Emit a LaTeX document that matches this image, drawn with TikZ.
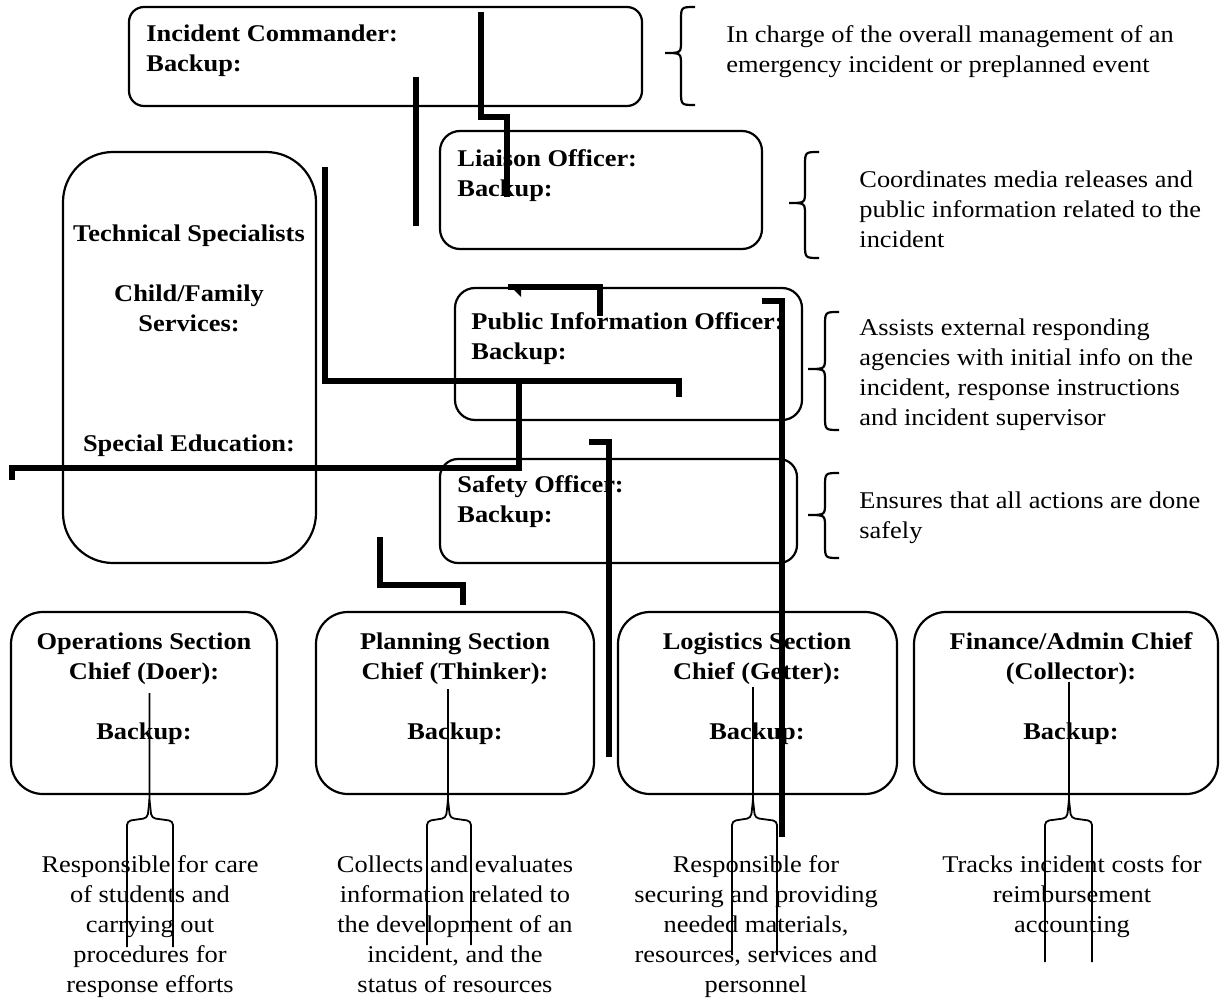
\documentclass[tikz,border=0pt]{standalone}
\usepackage{fontspec}
\setmainfont{Liberation Serif}[FakeStretch=1.1]
\newcommand\mybrace[6]{%
  \draw[bracestyle] (#1,#4) .. controls (#2,#4) .. (#2,#4+14) -- (#2,#5-12)
    .. controls (#2,#5) .. (#3,#5) .. controls (#2,#5) .. (#2,#5+12)
    -- (#2,#6-14) .. controls (#2,#6) .. (#1,#6);}
\newcommand\myfork[5]{%
  \draw[forkstyle] (#1,#2) -- (#1,800) -- (#1-2,818) -- (#3,821) -- (#3,#5);
  \draw[forkstyle] (#1,800) -- (#1+2,818) -- (#4,821) -- (#4,#5);}
\begin{document}
\begin{tikzpicture}[x=0.5pt,y=-0.5pt,
  box/.style={draw, line width=1.1pt, rounded corners=#1, inner sep=0pt, outer sep=0pt},
  box/.default=7.5pt,
  lbl/.style={inner sep=0pt, font=\fontsize{12pt}{15pt}\selectfont\bfseries, align=left},
  clbl/.style={lbl, align=center, anchor=north},
  desc/.style={inner sep=0pt, font=\fontsize{12pt}{15pt}\selectfont, align=left, anchor=north west},
  cdesc/.style={desc, align=center, anchor=north},
  heavy/.style={line width=2.8pt},
  forkstyle/.style={line width=0.9pt, rounded corners=2pt},
  bracestyle/.style={line width=1.1pt}]
\useasboundingbox (0,0) rectangle (1220,1000);

% boxes
\node[box, minimum width=256.5pt, minimum height=49.5pt] (ic) at (385.5,56.5) {};
\node[box=25pt, minimum width=126.5pt, minimum height=205.5pt] (tech) at (189.5,357.5) {};
\node[box=10pt, minimum width=161pt, minimum height=59pt] (liaison) at (601,190) {};
\node[box=10pt, minimum width=173.5pt, minimum height=66pt] (pio) at (628.5,354) {};
\node[box=9pt, minimum width=178.5pt, minimum height=52pt] (safety) at (618.5,511) {};
\node[box=16pt, minimum width=133pt, minimum height=91pt] (ops) at (144,703) {};
\node[box=16pt, minimum width=139pt, minimum height=91pt] (plan) at (455,703) {};
\node[box=16pt, minimum width=139.5pt, minimum height=91pt] (logi) at (757.5,703) {};
\node[box=16pt, minimum width=152pt, minimum height=91pt] (fin) at (1066,703) {};

% labels inside boxes
\node[lbl, anchor=north west] (ictext) at (146,24.5) {Incident Commander:\\Backup:};
\node[lbl, anchor=north west] (liaisontext) at (457,149.5) {Liaison Officer:\\Backup:};
\node[lbl, anchor=north west] (piotext) at (471,312.5) {Public Information Officer:\\Backup:};
\node[lbl, anchor=north west] (safetytext) at (457,475.5) {Safety Officer:\\Backup:};
\node[clbl] (techtext) at (189,224.5) {Technical Specialists\\[15pt]Child/Family\\Services:\\[45pt]Special Education:};
\node[clbl] (opstext) at (144,632.5) {Operations Section\\Chief (Doer):\\[15pt]Backup:};
\node[clbl] (plantext) at (455,632.5) {Planning Section\\Chief (Thinker):\\[15pt]Backup:};
\node[clbl] (logitext) at (757,632.5) {Logistics Section\\Chief (Getter):\\[15pt]Backup:};
\node[clbl] (fintext) at (1071,632.5) {Finance/Admin Chief\\(Collector):\\[15pt]Backup:};

% descriptions on the right
\node[desc] (d1) at (726,25.5) {In charge of the overall management of an\\emergency incident or preplanned event};
\node[desc] (d2) at (859,170.5) {Coordinates media releases and\\public information related to the\\incident};
\node[desc] (d3) at (859,318.5) {Assists external responding\\agencies with initial info on the\\incident, response instructions\\and incident supervisor};
\node[desc] (d4) at (859,491.5) {Ensures that all actions are done\\safely};

% descriptions at the bottom
\node[cdesc] (b1) at (150,855.5) {Responsible for care\\of students and\\carrying out\\procedures for\\response efforts};
\node[cdesc] (b2) at (455,855.5) {Collects and evaluates\\information related to\\the development of an\\incident, and the\\status of resources};
\node[cdesc] (b3) at (756,855.5) {Responsible for\\securing and providing\\needed materials,\\resources, services and\\personnel};
\node[cdesc] (b4) at (1072,855.5) {Tracks incident costs for\\reimbursement\\accounting};

% braces
\mybrace{695}{681}{665}{7}{53}{105}
\mybrace{819}{805}{789}{152}{203}{258}
\mybrace{839}{825}{808}{312}{369}{430}
\mybrace{839}{825}{808}{473}{515}{558}

% forks under bottom boxes
\myfork{149.5}{693}{127}{173}{947}
\myfork{448}{689}{427}{471}{945}
\myfork{753}{687}{732}{777}{955}
\myfork{1069}{682}{1045}{1092}{962}

% heavy lines
\draw[heavy] (481,12) -- (481,117) -- (507,117) -- (507,197);
\draw[heavy] (416,77) -- (416,226);
\draw[heavy] (325,167) -- (325,381) -- (679,381) -- (679,397);
\draw[heavy] (12,480) -- (12,468) -- (519,468) -- (519,381);
\draw[heavy] (600,316) -- (600,287) -- (508,287);
\fill (508,284) -- (521,284) -- (521,297) -- cycle;
\draw[heavy] (762,301) -- (782,301) -- (782,837);
\draw[heavy] (589,442) -- (609,442) -- (609,757);
\draw[heavy] (380,537) -- (380,585) -- (463,585) -- (463,605);
\end{tikzpicture}
\end{document}
